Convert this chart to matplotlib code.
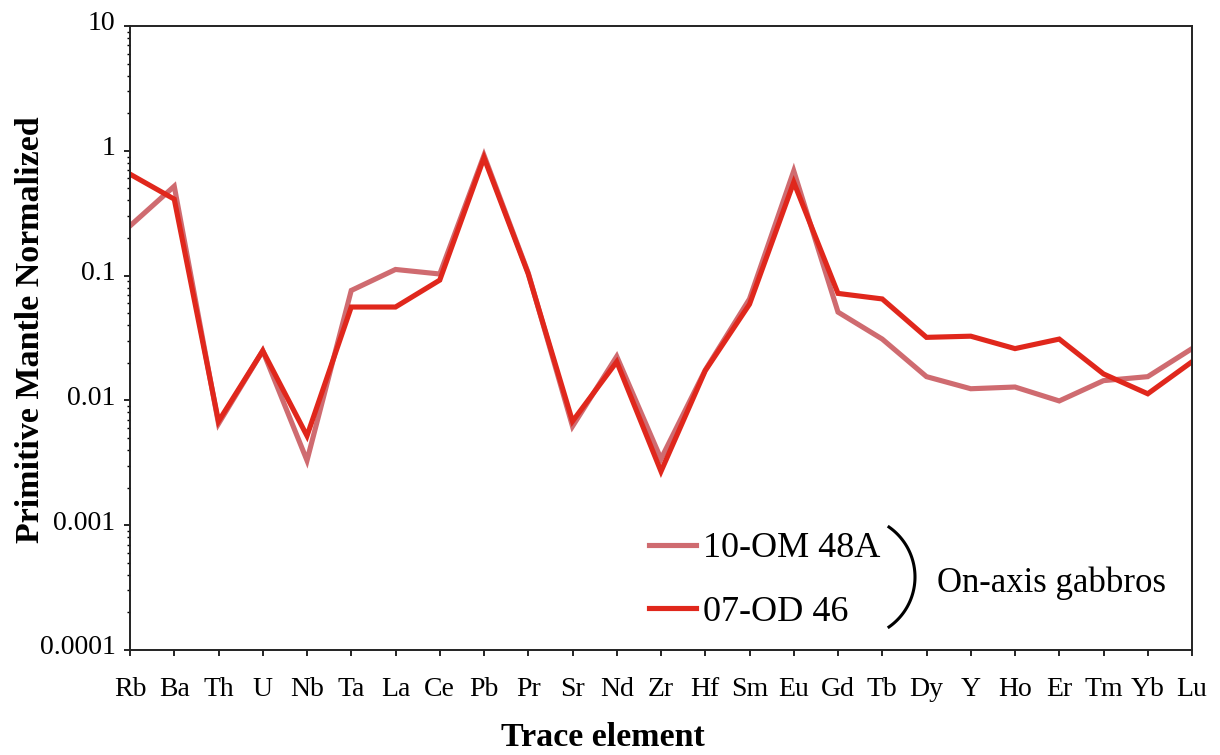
import matplotlib
matplotlib.use('Agg')
import matplotlib.pyplot as plt
import matplotlib.transforms as mtransforms
import numpy as np
from matplotlib.lines import Line2D
from matplotlib.ticker import FixedLocator, LogLocator, NullFormatter

plt.rcParams['font.family'] = ['Liberation Serif', 'DejaVu Serif']

# trace elements (primitive mantle normalized)
elements = ['Rb', 'Ba', 'Th', 'U', 'Nb', 'Ta', 'La', 'Ce', 'Pb', 'Pr', 'Sr', 'Nd', 'Zr',
            'Hf', 'Sm', 'Eu', 'Gd', 'Tb', 'Dy', 'Y', 'Ho', 'Er', 'Tm', 'Yb', 'Lu']

om48a = [0.25, 0.52, 0.0065, 0.025, 0.0033, 0.076, 0.112, 0.103, 0.92, 0.105, 0.0062, 0.0225, 0.0034,
         0.0175, 0.065, 0.69, 0.051, 0.031, 0.0155, 0.0124, 0.0128, 0.0099, 0.0144, 0.0155, 0.026]
od46 = [0.65, 0.41, 0.0068, 0.025, 0.0052, 0.056, 0.056, 0.092, 0.88, 0.103, 0.0068, 0.0204, 0.0027,
        0.0173, 0.059, 0.56, 0.072, 0.065, 0.032, 0.0327, 0.026, 0.031, 0.0163, 0.0113, 0.0204]

y_ticks = [0.0001, 0.001, 0.01, 0.1, 1, 10]
y_ticklabels = ['0.0001', '0.001', '0.01', '0.1', '1', '10']

W, H = 1220, 755
fig = plt.figure(figsize=(W / 100, H / 100), dpi=100)
ax = fig.add_axes([130 / W, 1 - 650 / H, 1062 / W, 624 / H])

x = np.arange(len(elements))
l1, = ax.plot(x, om48a, color='#cf6b70', lw=3.7, solid_joinstyle='miter', label='10-OM 48A')
l2, = ax.plot(x, od46, color='#e0271c', lw=3.7, solid_joinstyle='miter', label='07-OD 46')

ax.set_yscale('log')
ax.set_ylim(0.0001, 10)
ax.set_xlim(0, len(elements) - 1)
ax.yaxis.set_major_locator(FixedLocator(y_ticks))
ax.set_yticklabels(y_ticklabels)
ax.yaxis.set_minor_locator(LogLocator(base=10, subs=np.arange(2, 10)))
ax.yaxis.set_minor_formatter(NullFormatter())
ax.set_xticks(x)
ax.set_xticklabels(elements)

for s in ax.spines.values():
    s.set_linewidth(1.4)
    s.set_color('#222222')
ax.tick_params(axis='y', which='major', direction='out', length=4.5, width=1.2, labelsize=20, pad=6)
ax.tick_params(axis='y', which='minor', direction='out', length=2.5, width=1.0)
ax.tick_params(axis='x', which='major', direction='out', length=4.5, width=1.2, labelsize=20, pad=15)

# y tick labels sit a little above their ticks in the original
shift = mtransforms.ScaledTranslation(0, 5 / 100, fig.dpi_scale_trans)
for lab in ax.get_yticklabels():
    lab.set_transform(lab.get_transform() + shift)

ax.set_ylabel('Primitive Mantle Normalized', fontsize=24.5, fontweight='bold')
ax.yaxis.set_label_coords(-0.079, 0.514)
ax.set_xlabel('Trace element', fontsize=24.5, fontweight='bold')
ax.xaxis.set_label_coords(0.445, -0.116)

leg = ax.legend(handles=[l1, l2], loc='upper left', bbox_to_anchor=(649 / W, 1 - 532 / H),
                bbox_transform=fig.transFigure, frameon=False, fontsize=26,
                handlelength=1.3, handletextpad=0.2, labelspacing=0.83,
                borderpad=0, borderaxespad=0)

# bracket grouping the two samples
t = np.radians(np.linspace(-55, 55, 60))
bx = (854 + 61 * np.cos(t)) / W
by = 1 - (577 - 61 * np.sin(t)) / H
fig.add_artist(Line2D(bx, by, transform=fig.transFigure, lw=2.2, color='black'))
fig.text(937 / W, 1 - 592 / H, 'On-axis gabbros', fontsize=25, va='baseline', ha='left')

plt.savefig('out.png', dpi=100)
